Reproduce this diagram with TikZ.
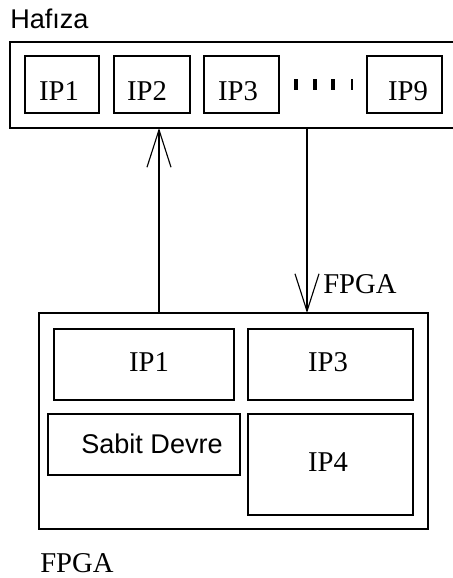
\documentclass[tikz,border=0pt]{standalone}
\usepackage{fontspec}
\setmainfont{Liberation Serif}
\newfontfamily\arialfont{Liberation Sans}
\usetikzlibrary{arrows.meta}
\begin{document}
\begin{tikzpicture}[x=0.75pt,y=-0.75pt,
  box/.style={draw,line width=0.85pt,inner sep=0pt,outer sep=0pt},
  tag/.style={anchor=base,inner sep=0pt,font=\fontsize{21.5pt}{24pt}\selectfont},
  sanstag/.style={anchor=base,inner sep=0pt,font=\arialfont\fontsize{20.3pt}{24pt}\selectfont},
  flow/.style={line width=0.85pt,-{Straight Barb[length=28pt,width=18pt,line width=0.85pt]}},
  dotbar/.style={line width=2.6pt}]
\useasboundingbox (0,0) rectangle (453,578);

% memory block
\node[sanstag,anchor=base west] (memname) at (10,28) {Hafıza};
\node[box,minimum width=460*0.75pt,minimum height=86*0.75pt,anchor=north west] (mem) at (10,42) {};
\node[box,minimum width=74*0.75pt,minimum height=57*0.75pt] (m1) at (62,84.5) {};
\node[box,minimum width=76*0.75pt,minimum height=57*0.75pt] (m2) at (152,84.5) {};
\node[box,minimum width=75*0.75pt,minimum height=57*0.75pt] (m3) at (241.5,84.5) {};
\node[box,minimum width=75*0.75pt,minimum height=57*0.75pt] (m9) at (404.5,84.5) {};
\node[tag] (t1) at (59,100) {IP1};
\node[tag] (t2) at (147,100) {IP2};
\node[tag] (t3) at (238,100) {IP3};
\node[tag] (t9) at (408,100) {IP9};
\foreach \xx in {296,315,333}
  \draw[dotbar] (\xx,79) -- (\xx,90);
\draw[line width=1.8pt] (352,79) -- (352,90);

% FPGA block
\node[box,minimum width=389*0.75pt,minimum height=216*0.75pt,anchor=north west] (fpga) at (39,313) {};
\node[box,minimum width=180*0.75pt,minimum height=71*0.75pt,anchor=north west] (f1) at (54,329) {};
\node[box,minimum width=165*0.75pt,minimum height=71*0.75pt,anchor=north west] (f3) at (248,329) {};
\node[box,minimum width=192*0.75pt,minimum height=61*0.75pt,anchor=north west] (fs) at (48,414) {};
\node[box,minimum width=165*0.75pt,minimum height=101*0.75pt,anchor=north west] (f4) at (248,414) {};
\node[tag] (u1) at (149,371) {IP1};
\node[tag] (u3) at (328,371) {IP3};
\node[sanstag] (us) at (152,453) {Sabit Devre};
\node[tag] (u4) at (328,471) {IP4};
\node[tag,anchor=base west] (fpganame) at (40,572) {FPGA};

% transfers between memory and FPGA
\coordinate (upx) at (159,0);
\coordinate (downx) at (307,0);
\draw[flow] (upx |- fpga.north) -- (upx |- mem.south);
\draw[flow] (downx |- mem.south) -- (downx |- fpga.north);
\node[tag,anchor=base west] (flowname) at (323,293) {FPGA};
\end{tikzpicture}
\end{document}
